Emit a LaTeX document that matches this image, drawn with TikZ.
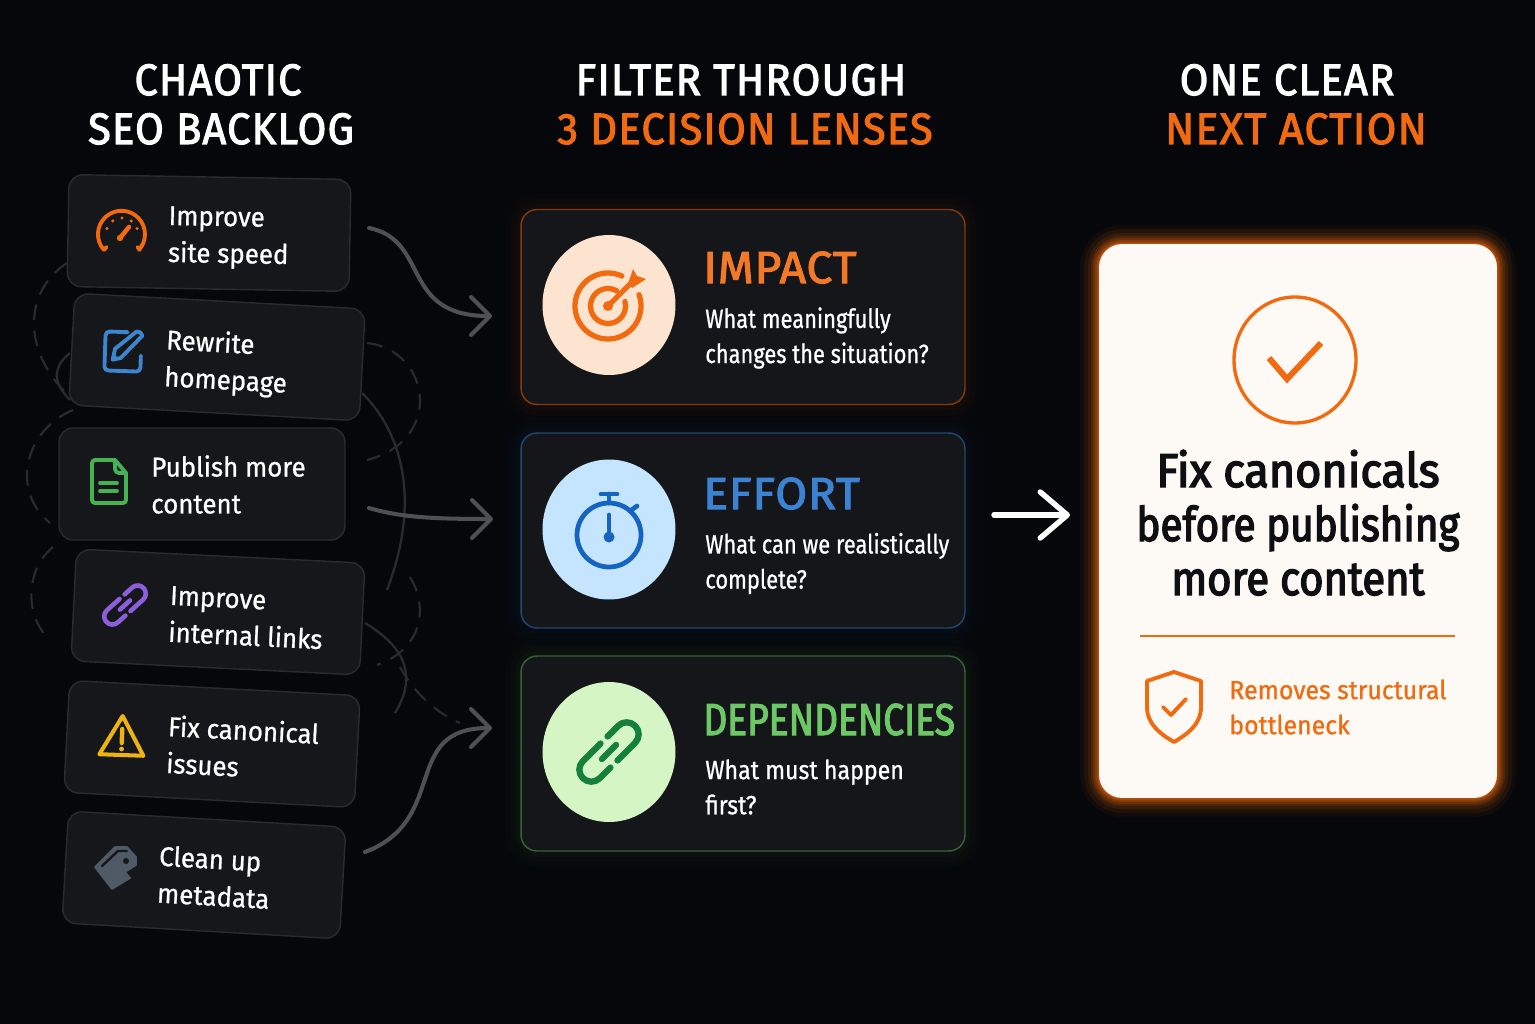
\documentclass[tikz,border=0pt]{standalone}
\usepackage{xcolor}
\usepackage{fontspec}
\usetikzlibrary{arrows.meta,shapes.geometric}
\setmainfont{Fira Sans}
\newfontfamily\headfont[LetterSpace=3,FakeBold=2.4,FakeStretch=.945]{Fira Sans}
\newfontfamily\widefont[LetterSpace=2,FakeBold=2.4,FakeStretch=1.03]{Fira Sans}
\newfontfamily\tightfont[FakeBold=2.4,FakeStretch=.83]{Fira Sans}
\newfontfamily\cardfont[FakeBold=.8,FakeStretch=.95]{Fira Sans}
\newfontfamily\bodyfont[FakeBold=.8,FakeStretch=.83]{Fira Sans}
\newfontfamily\boldfont[FakeBold=3,FakeStretch=.92]{Fira Sans}

\definecolor{bgdark}{HTML}{05070A}
\definecolor{cardfill}{HTML}{15171A}
\definecolor{cardline}{HTML}{292B2E}
\definecolor{lensfill}{HTML}{14161A}
\definecolor{wire}{HTML}{505050}
\definecolor{faint}{HTML}{2A2B2E}
\definecolor{hot}{HTML}{F26A10}
\definecolor{cool}{HTML}{3C82D2}
\definecolor{leaf}{HTML}{6CC864}
\definecolor{paper}{HTML}{FDF9F4}
\definecolor{inkdark}{HTML}{0D0F12}
\definecolor{hotdisc}{HTML}{FDE4D0}
\definecolor{cooldisc}{HTML}{C5E4FD}
\definecolor{leafdisc}{HTML}{D6F5C4}
\definecolor{watch}{HTML}{1565C0}
\definecolor{chain}{HTML}{15803D}
\definecolor{pencil}{HTML}{3D85CE}
\definecolor{sheet}{HTML}{45B354}
\definecolor{linkv}{HTML}{8B5FDB}
\definecolor{warn}{HTML}{EEB211}
\definecolor{tagg}{HTML}{4F5A66}

\newcommand{\chainicon}[1]{
	\draw[#1] (0,12) -- (-25,12) arc (90:270:12) -- (-10,-12);
	\draw[#1] (0,-12) -- (25,-12) arc (-90:90:12) -- (10,12);
	\draw[#1] (-10,0) -- (10,0);
}

\begin{document}
\begin{tikzpicture}[x=.02cm,y=-.02cm]
	\tikzstyle{card}=[draw=cardline, fill=cardfill, rounded corners=.28cm, line width=.8pt, inner sep=0, minimum height=2.24cm]
	\tikzstyle{cardtext}=[text=white, align=left, anchor=west, inner sep=0, font=\cardfont\fontsize{15.5}{21}\selectfont]
	\tikzstyle{headline}=[text=white, anchor=base, inner sep=0, font=\headfont\fontsize{25}{30}\selectfont]
	\tikzstyle{lens}=[fill=lensfill, rounded corners=.32cm, line width=.8pt, inner sep=0, minimum width=8.88cm, minimum height=3.9cm]
	\tikzstyle{lenshead}=[anchor=base west, inner sep=0, font=\widefont\fontsize{25.5}{30}\selectfont]
	\tikzstyle{lenstext}=[text=white, align=left, anchor=west, inner sep=0, font=\bodyfont\fontsize{15}{20}\selectfont]
	\tikzstyle{answer}=[text=inkdark, inner sep=0, anchor=base, transform shape, font=\boldfont\fontsize{27}{31}\selectfont]
	\tikzstyle{disc}=[ellipse, inner sep=0, minimum width=2.66cm, minimum height=2.8cm]
	\tikzstyle{loopline}=[draw=faint, line width=1.2pt, dashed, dash pattern=on 9pt off 6pt]
	\tikzstyle{looprope}=[draw=faint, line width=1.3pt]
	\tikzset{edge/.style = {draw=wire, line width=2.3pt, line cap=round, -{Straight Barb[length=.38cm,width=.76cm,round]}}}
	\tikzset{icon/.style = {y=.02cm, line cap=round, line join=round}}

	% page
	\fill[bgdark] (0,0) rectangle (1535,1024);
	\useasboundingbox (0,0) rectangle (1535,1024);

	% titles
	\node[headline](t1a) at (218,95) {CHAOTIC};
	\node[headline](t1b) at (221,144) {SEO BACKLOG};
	\node[headline](t2a) at (741,95) {FILTER THROUGH};
	\node[headline,text=hot](t2b) at (745,144) {3 DECISION LENSES};
	\node[headline](t3a) at (1287,95) {ONE CLEAR};
	\node[headline,text=hot,transform shape,xscale=1.03](t3b) at (1296,144) {NEXT ACTION};

	% tangled lines behind the backlog
	\draw[loopline] (67,263) .. controls (25,290) and (20,350) .. (70,397);
	\draw[looprope] (70,353) .. controls (55,365) and (50,380) .. (70,400);
	\draw[loopline] (73,410) .. controls (25,430) and (10,490) .. (50,523);
	\draw[loopline] (53,547) .. controls (25,570) and (25,615) .. (48,638);
	\draw[loopline] (367,343) .. controls (430,350) and (445,440) .. (367,460);
	\draw[looprope] (362,393) .. controls (395,425) and (425,490) .. (387,590);
	\draw[loopline] (410,577) .. controls (430,610) and (420,650) .. (377,665);
	\draw[looprope] (365,623) .. controls (410,650) and (415,680) .. (395,713);
	\draw[loopline] (400,667) .. controls (415,695) and (440,715) .. (460,723);

	% backlog cards
	\node[card,minimum width=5.64cm,rotate=-1](c1) at (209,233) {};
	\node[card,minimum width=5.82cm,rotate=-3.1](c2) at (217,357) {};
	\node[card,minimum width=5.72cm](c3) at (202,484) {};
	\node[card,minimum width=5.78cm,rotate=-2.8](c4) at (218,612) {};
	\node[card,minimum width=5.82cm,rotate=-3](c5) at (212,744) {};
	\node[card,minimum width=5.56cm,rotate=-3.3](c6) at (204,875) {};

	\node[cardtext,rotate=-1](c1t) at (168,237) {Improve\\site speed};
	\node[cardtext,rotate=-3.1](c2t) at (165,360) {Rewrite\\homepage};
	\node[cardtext](c3t) at (151,484.5) {Publish more\\content};
	\node[cardtext,rotate=-2.8](c4t) at (169,614) {Improve\\internal links};
	\node[cardtext,rotate=-3](c5t) at (167,744) {Fix canonical\\issues};
	\node[cardtext,rotate=-3.3](c6t) at (158,874) {Clean up\\metadata};

	% gauge
	\begin{scope}[shift={(122,234)},icon,draw=hot,line width=2.2pt]
		\draw (-18,-16) -- (-15.5,-13) (-18,-16) arc (222:-42:23.5) (18,-16) -- (15.5,-13);
		\draw[line width=2.6pt] (-2,-4) -- (7,7);
		\fill[hot] (-2,-4) circle (3.2);
		\foreach \a in {20,55,90,125,160} \fill[hot] (\a:16) circle (1.7);
	\end{scope}

	% pencil on a square
	\begin{scope}[shift={(122,351)},rotate=-2,icon,draw=pencil,line width=2.2pt]
		\draw (5,19) -- (-13,19) arc (90:180:4) -- (-17,-16) arc (180:270:4) -- (15,-20) arc (270:360:4) -- (19,-4);
		\draw[fill=cardfill] (-9,-9) -- (-7,2) -- (14,20) arc (100:10:5) -- (-1,-7) -- cycle;
		\fill[pencil] (-9,-9) -- (-8,-3) -- (-3,-8) -- cycle;
	\end{scope}

	% page
	\begin{scope}[shift={(109,481)},icon,draw=sheet,line width=2.2pt]
		\draw (6,21) -- (-14,21) arc (90:180:3) -- (-17,-19) arc (180:270:3) -- (14,-22) arc (270:360:3) -- (17,8) -- cycle;
		\draw (6,21) -- (6,12) arc (180:270:4) -- (17,8);
		\draw (-9,-2) -- (8,-2) (-9,-10) -- (8,-10);
	\end{scope}

	% link
	\begin{scope}[shift={(125,605)},rotate=42,icon,scale=.68]
		\chainicon{draw=linkv,line width=2.6pt}
	\end{scope}

	% warning
	\begin{scope}[shift={(122,736)},rotate=-2,icon,draw=warn,line width=2.3pt]
		\draw (0,20) -- (-22,-19) -- (22,-19) -- cycle;
		\draw[line width=2.5pt] (0,7) -- (0,-7);
		\fill[warn] (0,-13) circle (2.4);
	\end{scope}

	% tag
	\fill[tagg,draw=tagg,line width=1pt,line join=round] (95,867) -- (115,847) -- (127,847) -- (136,857) -- (136,865) -- (125,872) -- (130,878) -- (112,889) -- cycle;
	\draw[cardfill,line width=1.4pt,line cap=round] (102,866) -- (118,851) -- (127,851);
	\fill[cardfill] (126,861) circle (3);

	% lenses
	\foreach \cy/\tone in {307/hot,530.5/cool,753.5/leaf}{
		\foreach \w/\o in {24/.008,18/.012,12/.018,6/.025}
			\draw[draw=\tone,opacity=\o,line width=\w pt,rounded corners=.32cm] (521,{\cy-98}) rectangle (965,{\cy+98});
	}
	\node[lens,draw=hot!55!black](impact) at (743,307) {};
	\node[lens,draw=cool!55!black](effort) at (743,530.5) {};
	\node[lens,draw=leaf!50!black](deps) at (743,753.5) {};

	\node[disc,fill=hotdisc](d1) at (609,305) {};
	\node[disc,fill=cooldisc](d2) at (609,529.5) {};
	\node[disc,fill=leafdisc](d3) at (609,752) {};

	\node[lenshead,text=hot!90!white](h1) at (703,283) {IMPACT};
	\node[lenstext](b1) at (705,338) {What meaningfully\\changes the situation?};
	\node[lenshead,text=cool](h2) at (703,509) {EFFORT};
	\node[lenstext](b2) at (705,563.5) {What can we realistically\\complete?};
	\node[lenshead,text=leaf,font=\tightfont\fontsize{25.5}{30}\selectfont](h3) at (703,735) {DEPENDENCIES};
	\node[lenstext,transform shape,xscale=1.06](b3) at (705,787) {What must happen\\first?};

	% target
	\begin{scope}[shift={(608,306)},icon,draw=hot,line width=3pt]
		\draw (65:33) arc (65:380:33);
		\draw (60:17.5) arc (60:375:17.5);
		\draw (0,0) -- (24,24);
		\fill[hot] (0,0) circle (5);
		\fill[hot] (20,22) -- (25,37) -- (29,30) -- (38,27) -- (24,18) -- cycle;
	\end{scope}

	% stopwatch
	\begin{scope}[shift={(609,535)},icon,draw=watch,fill=watch,line width=2.7pt]
		\draw[fill=none] (0,0) circle (32);
		\draw (-8,41) -- (8,41) (0,41) -- (0,32);
		\draw (21,24) -- (28,29);
		\draw (0,20) -- (0,0);
		\fill (0,-2) circle (5.5);
	\end{scope}

	% chain
	\begin{scope}[shift={(609,752)},rotate=45,icon]
		\chainicon{draw=chain,line width=3.6pt}
	\end{scope}

	% answer
	\coordinate (arrowa) at (994,515);
	\coordinate (arrowb) at (1070,515);
	\draw[draw=white,line width=3.1pt,line cap=round,-{Straight Barb[length=.54cm,width=.92cm,round]}] (arrowa) -- (arrowb);

	\foreach \w/\o in {38/.05,30/.08,22/.1,16/.13,12/.16,8/.18,5/.2,3/.25}
		\draw[draw=hot,opacity=\o,line width=\w*.569pt,rounded corners=.46cm] (1099,244) rectangle (1497,798);
	\node[fill=paper,rounded corners=.46cm,inner sep=0,minimum width=7.96cm,minimum height=11.08cm](final) at (1298,521) {};

	\node[ellipse,draw=hot,line width=1.9pt,inner sep=0,minimum width=2.44cm,minimum height=2.52cm](tick) at (1295,360) {};
	\coordinate (ticka) at (1269,358);
	\coordinate (tickb) at (1287,379);
	\coordinate (tickc) at (1321,343);
	\draw[draw=hot,line width=3.4pt] (ticka) -- (tickb) -- (tickc);

	\node[answer,xscale=1.03](f1) at (1298,487) {Fix canonicals};
	\node[answer,xscale=.925](f2) at (1298,541) {before publishing};
	\node[answer,xscale=.955](f3) at (1298,595) {more content};

	\coordinate (rulea) at (1140,636);
	\coordinate (ruleb) at (1455,636);
	\draw[draw=hot,line width=1.4pt] (rulea) -- (ruleb);

	% shield
	\begin{scope}[shift={(1174,707)},icon,draw=hot,line width=2.2pt]
		\draw (0,35) -- (-27,26) -- (-27,0) .. controls (-27,-18) and (-12,-28) .. (0,-35) .. controls (12,-28) and (27,-18) .. (27,0) -- (27,26) -- cycle;
		\draw (-11,0) -- (-3,-8) -- (12,8);
	\end{scope}

	\node[text=hot,align=left,anchor=west,inner sep=0,font=\cardfont\fontsize{14.9}{20}\selectfont](why) at (1229,707) {Removes structural\\bottleneck};

	% paths into the lenses
	\coordinate (a1) at (369,228);
	\coordinate (a2) at (369,508);
	\coordinate (a3) at (365,852);
	\coordinate (l1) at (492,316);
	\coordinate (l2) at (493,519);
	\coordinate (l3) at (492,728);
	\draw[edge] (a1) .. controls (430,240) and (400,316) .. (l1);
	\draw[edge] (a2) .. controls (400,517) and (430,519) .. (l2);
	\draw[edge] (a3) .. controls (450,820) and (400,728) .. (l3);
\end{tikzpicture}
\end{document}
